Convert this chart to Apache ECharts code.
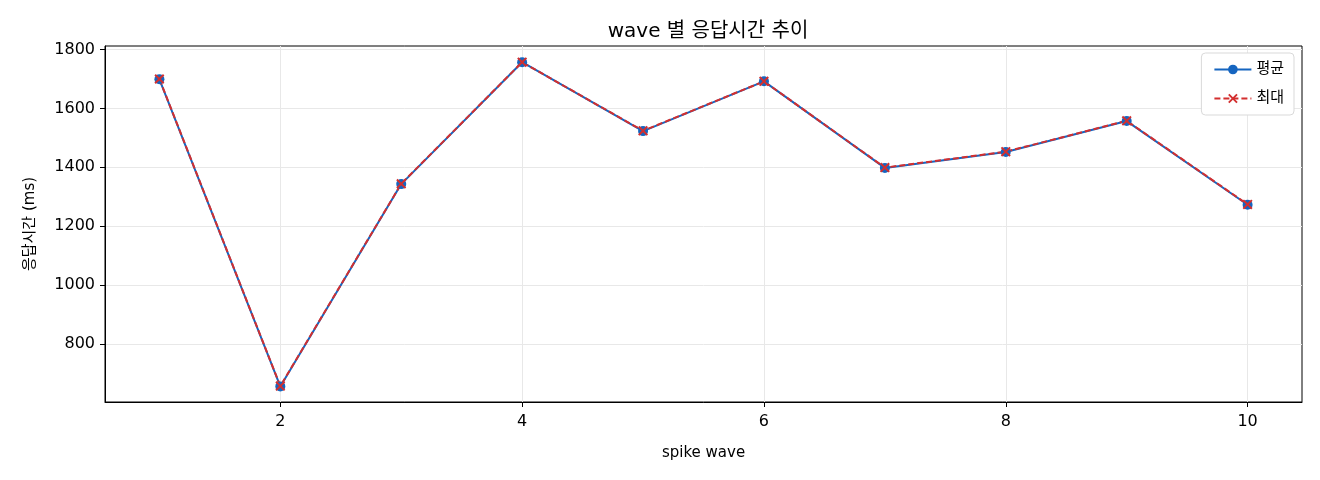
<!DOCTYPE html>
<html lang="ko">
	<head>
		<meta charset="UTF-8">
		<title>wave 별 응답시간 추이</title>
		<script src="https://cdn.jsdelivr.net/npm/echarts@6/dist/echarts.min.js" type="text/javascript" charset="utf-8"></script>
		<style>
			html, body { margin: 0; padding: 0; background: #fff; }
			#myChart { width: 1320px; height: 480px; }
		</style>
	</head>
	<body>
		<div id="myChart"></div>
		<script type="text/javascript">
			// x축 wave 번호
			var waves = [1, 2, 3, 4, 5, 6, 7, 8, 9, 10];
			// 평균 응답시간 (ms)
			var avgData = [1699, 656, 1343, 1757, 1523, 1692, 1398, 1452, 1557, 1273];
			// 최대 응답시간 (ms)
			var maxData = [1700, 657, 1344, 1757, 1524, 1692, 1399, 1453, 1558, 1274];
			// 눈금
			var xTicks = [2, 4, 6, 8, 10];
			var yTicks = [800, 1000, 1200, 1400, 1600, 1800];

			var font = '"DejaVu Sans", "Noto Sans CJK KR", sans-serif';
			var xMark = 'path://M0,1.4 L1.4,0 L5,3.6 L8.6,0 L10,1.4 L6.4,5 L10,8.6 L8.6,10 L5,6.4 L1.4,10 L0,8.6 L3.6,5 Z';

			function pairs(vals) {
				return waves.map(function (w, i) { return [w, vals[i]]; });
			}

			var myChart = echarts.init(document.getElementById('myChart'));
			var option = {
				animation: false,
				title: {
					text: 'wave 별 응답시간 추이',
					left: 703,
					textAlign: 'center',
					top: 17,
					textStyle: { fontFamily: font, fontSize: 20, fontWeight: 'normal', color: '#000' }
				},
				legend: {
					right: 26,
					top: 53,
					orient: 'vertical',
					itemWidth: 37,
					itemHeight: 12,
					itemGap: 14,
					padding: [9, 10, 9, 12],
					backgroundColor: '#fff',
					borderColor: '#d9d9d9',
					borderWidth: 1,
					borderRadius: 4,
					textStyle: { fontFamily: font, fontSize: 15, color: '#000' },
					data: ['평균', '최대']
				},
				grid: {
					left: 105,
					right: 18,
					top: 46,
					bottom: 78,
					show: true,
					borderColor: '#000',
					borderWidth: 1
				},
				xAxis: {
					type: 'value',
					min: 0.55,
					max: 10.45,
					name: 'spike wave',
					nameLocation: 'middle',
					nameGap: 44,
					nameTextStyle: { fontFamily: font, fontSize: 15, color: '#000' },
					axisLine: { show: true, lineStyle: { color: '#000' } },
					axisTick: { show: true, customValues: xTicks, length: 5, lineStyle: { color: '#000' } },
					axisLabel: { customValues: xTicks, fontFamily: font, fontSize: 16, color: '#000', margin: 12 },
					splitLine: { show: true, lineStyle: { color: '#e8e8e8' } }
				},
				yAxis: {
					type: 'value',
					min: 603,
					max: 1812,
					name: '응답시간 (ms)',
					nameLocation: 'middle',
					nameGap: 67,
					nameTextStyle: { fontFamily: font, fontSize: 15, color: '#000' },
					axisLine: { show: true, lineStyle: { color: '#000' } },
					axisTick: { show: true, customValues: yTicks, length: 5, lineStyle: { color: '#000' } },
					axisLabel: {
						customValues: yTicks, fontFamily: font, fontSize: 16, color: '#000', margin: 10,
						formatter: function (v) { return String(v); }
					},
					splitLine: { show: true, lineStyle: { color: '#e8e8e8' } }
				},
				series: [{
					name: '평균',
					type: 'line',
					data: pairs(avgData),
					symbol: 'circle',
					symbolSize: 10,
					showAllSymbol: true,
					itemStyle: { color: '#1565c0' },
					lineStyle: { color: '#1565c0', width: 2 }
				}, {
					name: '최대',
					type: 'line',
					data: pairs(maxData),
					symbol: xMark,
					symbolSize: 10,
					showAllSymbol: true,
					itemStyle: { color: '#d32f2f' },
					lineStyle: { color: '#d32f2f', width: 2, type: [6, 3] }
				}]
			};
			myChart.setOption(option);
		</script>
	</body>
</html>
